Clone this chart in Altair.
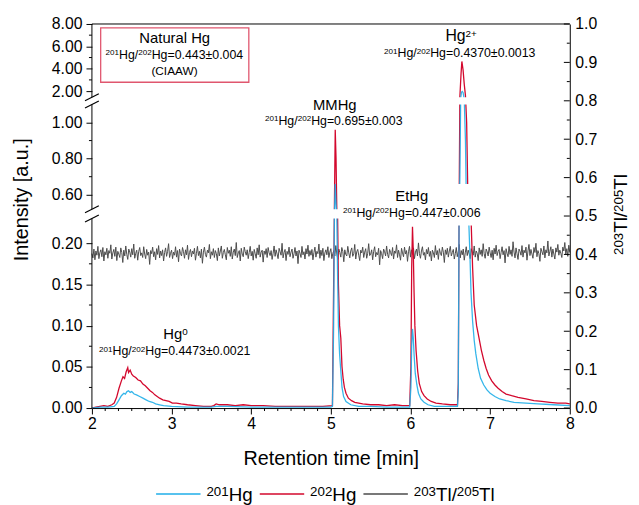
import re
import altair as alt
import pandas as pd

FONT = "Liberation Sans"

# ---------------- data ----------------
# 202Hg trace (time [min], intensity [a.u.])
HG202_POINTS = [
    (2.00, 0.000), (2.05, 0.001), (2.10, 0.002), (2.15, 0.003), (2.20, 0.002), (2.25, 0.004),
    (2.28, 0.006), (2.31, 0.013), (2.34, 0.024), (2.37, 0.033), (2.39, 0.038), (2.41, 0.036),
    (2.43, 0.044), (2.45, 0.049), (2.46, 0.043), (2.48, 0.046), (2.50, 0.041), (2.52, 0.039),
    (2.55, 0.037), (2.58, 0.034), (2.61, 0.033), (2.64, 0.029), (2.67, 0.027), (2.70, 0.024),
    (2.73, 0.021), (2.76, 0.019), (2.79, 0.016), (2.82, 0.014), (2.85, 0.012), (2.89, 0.010),
    (2.93, 0.009), (2.97, 0.008), (3.01, 0.006), (3.06, 0.006), (3.12, 0.005), (3.20, 0.004),
    (3.30, 0.003), (3.40, 0.002), (3.50, 0.002), (3.53, 0.003), (3.56, 0.005), (3.60, 0.004),
    (3.70, 0.004), (3.80, 0.003), (3.90, 0.004), (4.00, 0.003), (4.15, 0.003), (4.30, 0.002),
    (4.50, 0.002), (4.70, 0.002), (4.90, 0.002), (5.02, 0.003), (5.035, 0.15), (5.045, 0.55),
    (5.055, 0.96), (5.065, 0.80), (5.075, 0.45), (5.085, 0.25), (5.095, 0.15), (5.11, 0.10),
    (5.125, 0.085), (5.14, 0.050), (5.155, 0.035), (5.17, 0.025), (5.19, 0.018), (5.22, 0.012),
    (5.26, 0.009), (5.30, 0.007), (5.40, 0.005), (5.50, 0.004), (5.60, 0.004), (5.70, 0.003),
    (5.80, 0.004), (5.90, 0.003), (5.99, 0.003), (6.005, 0.05), (6.015, 0.17), (6.025, 0.220),
    (6.035, 0.19), (6.045, 0.14), (6.055, 0.10), (6.07, 0.070), (6.09, 0.045), (6.11, 0.030),
    (6.14, 0.020), (6.17, 0.015), (6.21, 0.011), (6.26, 0.008), (6.32, 0.006), (6.40, 0.005),
    (6.50, 0.004), (6.59, 0.004), (6.60, 0.03), (6.61, 0.40), (6.62, 1.50), (6.635, 3.60),
    (6.645, 4.65), (6.66, 3.90), (6.675, 2.60), (6.69, 1.60), (6.705, 1.00), (6.72, 0.60),
    (6.74, 0.35), (6.76, 0.24), (6.78, 0.17), (6.80, 0.125), (6.83, 0.100), (6.86, 0.085),
    (6.89, 0.070), (6.92, 0.058), (6.95, 0.048), (6.98, 0.040), (7.02, 0.033), (7.06, 0.028),
    (7.10, 0.024), (7.15, 0.020), (7.20, 0.017), (7.27, 0.015), (7.35, 0.013), (7.45, 0.011),
    (7.55, 0.009), (7.65, 0.008), (7.75, 0.007), (7.85, 0.006), (7.95, 0.006), (8.00, 0.005),
]

# 201Hg trace
HG201_POINTS = [
    (2.00, 0.000), (2.10, 0.001), (2.20, 0.001), (2.28, 0.002), (2.31, 0.005), (2.34, 0.010),
    (2.37, 0.015), (2.40, 0.018), (2.42, 0.017), (2.44, 0.020), (2.46, 0.021), (2.48, 0.019),
    (2.50, 0.020), (2.53, 0.017), (2.56, 0.016), (2.60, 0.014), (2.64, 0.012), (2.68, 0.010),
    (2.72, 0.008), (2.76, 0.007), (2.80, 0.005), (2.85, 0.004), (2.90, 0.003), (3.00, 0.002),
    (3.20, 0.001), (3.50, 0.001), (3.56, 0.002), (3.70, 0.002), (4.00, 0.001), (4.50, 0.001),
    (5.00, 0.001), (5.02, 0.002), (5.035, 0.10), (5.045, 0.38), (5.055, 0.66), (5.065, 0.55),
    (5.075, 0.30), (5.085, 0.16), (5.095, 0.10), (5.11, 0.065), (5.125, 0.045), (5.14, 0.025),
    (5.16, 0.014), (5.19, 0.008), (5.25, 0.004), (5.35, 0.002), (5.50, 0.002), (5.70, 0.001),
    (5.99, 0.001), (6.005, 0.025), (6.015, 0.075), (6.025, 0.096), (6.035, 0.085), (6.045, 0.065),
    (6.06, 0.042), (6.08, 0.028), (6.10, 0.018), (6.13, 0.011), (6.17, 0.007), (6.22, 0.004),
    (6.30, 0.002), (6.45, 0.002), (6.59, 0.002), (6.60, 0.02), (6.61, 0.25), (6.62, 0.70),
    (6.63, 1.40), (6.64, 1.90), (6.65, 1.97), (6.66, 1.88), (6.675, 1.35), (6.69, 0.90),
    (6.70, 0.60), (6.715, 0.38), (6.73, 0.25), (6.745, 0.19), (6.76, 0.14), (6.78, 0.105),
    (6.80, 0.082), (6.82, 0.066), (6.85, 0.048), (6.88, 0.036), (6.92, 0.028), (6.96, 0.022),
    (7.00, 0.018), (7.06, 0.014), (7.12, 0.011), (7.20, 0.009), (7.30, 0.007), (7.45, 0.006),
    (7.60, 0.005), (7.80, 0.004), (8.00, 0.003),
]

# 203Tl/205Tl ratio, sampled every TL_STEP minutes from TL_START
TL_START = 2.0
TL_STEP = 0.0125
TL_RATIO = [
    0.402, 0.391, 0.414, 0.386, 0.409, 0.398, 0.421, 0.389, 0.405, 0.412, 0.394, 0.418, 0.383, 0.407, 0.399, 0.416, 0.390, 0.410, 0.403, 0.425,
    0.388, 0.404, 0.413, 0.395, 0.419, 0.384, 0.408, 0.401, 0.392, 0.417, 0.405, 0.379, 0.411, 0.396, 0.422, 0.400, 0.387, 0.414, 0.406, 0.393,
    0.415, 0.399, 0.427, 0.390, 0.403, 0.411, 0.385, 0.408, 0.418, 0.397, 0.404, 0.392, 0.420, 0.401, 0.389, 0.413, 0.398, 0.406, 0.374, 0.410,
    0.402, 0.419, 0.394, 0.407, 0.386, 0.415, 0.400, 0.423, 0.391, 0.409, 0.397, 0.412, 0.383, 0.405, 0.417, 0.395, 0.408, 0.428, 0.392, 0.403,
    0.411, 0.389, 0.406, 0.398, 0.420, 0.393, 0.410, 0.381, 0.414, 0.402, 0.396, 0.418, 0.407, 0.390, 0.412, 0.399, 0.424, 0.387, 0.405, 0.413,
    0.394, 0.409, 0.401, 0.416, 0.385, 0.403, 0.421, 0.397, 0.408, 0.391, 0.414, 0.377, 0.406, 0.419, 0.400, 0.393, 0.411, 0.404, 0.426, 0.389,
    0.407, 0.398, 0.415, 0.392, 0.410, 0.402, 0.384, 0.417, 0.396, 0.409, 0.422, 0.390, 0.405, 0.413, 0.399, 0.386, 0.418, 0.403, 0.411, 0.395,
    0.420, 0.388, 0.406, 0.414, 0.397, 0.431, 0.392, 0.404, 0.410, 0.383, 0.416, 0.401, 0.394, 0.419, 0.407, 0.398, 0.412, 0.389, 0.405, 0.421,
    0.396, 0.408, 0.385, 0.413, 0.402, 0.390, 0.417, 0.399, 0.425, 0.393, 0.406, 0.411, 0.380, 0.409, 0.400, 0.415, 0.392, 0.418, 0.404, 0.397,
    0.410, 0.387, 0.403, 0.422, 0.395, 0.412, 0.401, 0.389, 0.416, 0.407, 0.398, 0.429, 0.391, 0.405, 0.413, 0.384, 0.408, 0.400, 0.419, 0.394,
    0.406, 0.414, 0.390, 0.402, 0.418, 0.396, 0.409, 0.376, 0.411, 0.403, 0.392, 0.421, 0.399, 0.407, 0.388, 0.415, 0.401, 0.424, 0.395, 0.410,
    0.398, 0.413, 0.386, 0.405, 0.419, 0.393, 0.408, 0.402, 0.427, 0.390, 0.411, 0.397, 0.416, 0.384, 0.404, 0.412, 0.399, 0.420, 0.392, 0.406,
    0.415, 0.389, 0.403, 0.410, 0.396, 0.423, 0.401, 0.387, 0.414, 0.405, 0.393, 0.418, 0.408, 0.381, 0.412, 0.400, 0.396, 0.421, 0.404, 0.391,
    0.409, 0.417, 0.395, 0.402, 0.426, 0.388, 0.407, 0.413, 0.398, 0.384, 0.411, 0.404, 0.419, 0.392, 0.406, 0.415, 0.390, 0.403, 0.428, 0.397,
    0.401, 0.412, 0.386, 0.408, 0.420, 0.394, 0.405, 0.399, 0.416, 0.373, 0.410, 0.402, 0.389, 0.414, 0.407, 0.396, 0.422, 0.400, 0.391, 0.413,
    0.405, 0.397, 0.418, 0.388, 0.409, 0.403, 0.425, 0.392, 0.411, 0.399, 0.385, 0.416, 0.404, 0.394, 0.419, 0.401, 0.410, 0.382, 0.407, 0.421,
    0.393, 0.412, 0.400, 0.417, 0.389, 0.406, 0.414, 0.396, 0.430, 0.402, 0.390, 0.409, 0.420, 0.398, 0.405, 0.386, 0.413, 0.401, 0.418, 0.395,
    0.408, 0.383, 0.411, 0.404, 0.392, 0.423, 0.399, 0.410, 0.387, 0.415, 0.403, 0.397, 0.419, 0.406, 0.379, 0.412, 0.400, 0.416, 0.393, 0.409,
    0.421, 0.396, 0.405, 0.413, 0.388, 0.402, 0.418, 0.394, 0.407, 0.426, 0.391, 0.410, 0.399, 0.414, 0.385, 0.404, 0.420, 0.397, 0.411, 0.401,
    0.389, 0.415, 0.406, 0.398, 0.422, 0.393, 0.409, 0.403, 0.384, 0.417, 0.400, 0.412, 0.395, 0.428, 0.402, 0.390, 0.414, 0.407, 0.396, 0.419,
    0.404, 0.392, 0.411, 0.386, 0.416, 0.401, 0.424, 0.397, 0.408, 0.413, 0.389, 0.405, 0.420, 0.399, 0.410, 0.378, 0.415, 0.403, 0.394, 0.421,
    0.400, 0.412, 0.395, 0.433, 0.406, 0.391, 0.417, 0.402, 0.387, 0.414, 0.408, 0.398, 0.423, 0.393, 0.411, 0.404, 0.419, 0.385, 0.409, 0.426,
    0.397, 0.413, 0.401, 0.390, 0.418, 0.405, 0.429, 0.394, 0.410, 0.402, 0.382, 0.416, 0.407, 0.399, 0.422, 0.391, 0.412, 0.404, 0.435, 0.396,
    0.408, 0.420, 0.393, 0.414, 0.401, 0.388, 0.417, 0.406, 0.426, 0.398, 0.411, 0.403, 0.392, 0.419, 0.409, 0.431, 0.400, 0.415, 0.395, 0.424,
    0.405,
]

# legend entries ({...} marks a superscript)
SERIES = ["{201}Hg", "{202}Hg", "{203}Tl/{205}Tl"]
COLORS = ["#1FAEE8", "#D3082D", "#4B4B4B"]

X_TICKS = [2, 3, 4, 5, 6, 7, 8]
X_MINOR = [round(2 + k / 6, 4) for k in range(1, 36) if k % 6]
LEFT_TICKS = [0, 0.05, 0.10, 0.15, 0.20, 0.60, 0.80, 1.00, 2, 4, 6, 8]
LEFT_MINOR = [0.025, 0.075, 0.125, 0.175, 0.7, 0.9, 3, 5, 7]
RIGHT_TICKS = [0.0, 0.1, 0.2, 0.3, 0.4, 0.5, 0.6, 0.7, 0.8, 0.9, 1.0]
RIGHT_MINOR = [0.05, 0.15, 0.25, 0.35, 0.45, 0.55, 0.65, 0.75, 0.85, 0.95]

# broken left axis: three linear pieces
Y_DOMAIN = [0, 0.23, 0.52, 1.1, 1.45, 8]
SEG_LO = [0, 0.52, 1.45]
SEG_HI = [0.23, 1.1, 8]
GAP_LO = [0.23, 1.1]
GAP_HI = [0.52, 1.45]

# annotations: markup, x [min], y [a.u.], font size, superscript size
LABELS = [
    ("Hg{2+}", 6.636, 6.94, 16, 10),
    ("{201}Hg/{202}Hg=0.4370±0.0013", 6.618, 5.44, 12.5, 8.2),
    ("MMHg", 5.05, 1.098, 15, 10),
    ("{201}Hg/{202}Hg=0.695±0.003", 5.037, 1.011, 12.5, 8.2),
    ("EtHg", 6.016, 0.595, 15, 10),
    ("{201}Hg/{202}Hg=0.447±0.006", 6.016, 0.415, 12.5, 8.2),
    ("Hg{0}", 3.05, 0.0898, 15, 10),
    ("{201}Hg/{202}Hg=0.4473±0.0021", 3.04, 0.0695, 12.5, 8.2),
    ("Natural Hg", 3.04, 6.77, 15, 10),
    ("{201}Hg/{202}Hg=0.443±0.004", 3.035, 5.27, 12.5, 8.2),
    ("(CIAAW)", 3.04, 3.85, 12, 8),
]
BOX_NATURAL = (2.11, 3.97, 2.79, 7.65)
BOX_ETHG = (5.13, 6.90, 0.2216, 0.66)
RIGHT_TITLE = "{203}Tl/{205}Tl"

# ---------------- layout ----------------
W, H = 484, 389
Y_RANGE = [389, 197, 187.6, 81.5, 74.2, 0]

XS = alt.Scale(domain=[2, 8], nice=False, zero=False)
YS = alt.Scale(domain=Y_DOMAIN, range=Y_RANGE, nice=False, zero=False)
YR = alt.Scale(domain=[0, 1], nice=False, zero=False)

X_AXIS = alt.Axis(values=X_TICKS, format="d", tickSize=6, labelPadding=2, labelFontSize=16,
                  labelFlush=False, labelOverlap=False, grid=False, zindex=1,
                  title="Retention time [min]", titleFontSize=20, titleY=57,
                  titleBaseline="alphabetic")
L_AXIS = alt.Axis(orient="left", values=LEFT_TICKS, format=".2f", domain=False, tickSize=6,
                  labelPadding=4, labelFontSize=16, labelOverlap=False, labelFlush=False,
                  grid=False, title="Intensity [a.u.]", titleFontSize=20, titleAngle=270,
                  titleX=-65, titleY=177.5, titleAlign="center", titleBaseline="alphabetic")
R_AXIS = alt.Axis(orient="right", values=RIGHT_TICKS, format=".1f", ticks=False,
                  labelPadding=5, labelFontSize=16, labelOverlap=False, labelFlush=False,
                  grid=False, zindex=1, title=None)

# Arial / Liberation Sans advance widths (1/1000 em)
ADV = {" ": 278, "(": 333, ")": 333, "+": 584, ".": 278, "/": 278, "=": 584, "±": 549,
       "A": 667, "C": 722, "E": 667, "H": 722, "I": 278, "M": 833, "N": 722, "T": 611,
       "W": 944, "a": 556, "g": 556, "l": 222, "r": 333, "t": 278, "u": 556}
for _d in "0123456789":
    ADV[_d] = 556


def text_width(s, size):
    return sum(ADV.get(c, 556) for c in s) * size / 1000.0


def rich_text(markup, base, sup, make_chart, enc, center=True, angle=0):
    """Lay out a string with superscripts as a row of text marks."""
    parts = [(a, True) if a else (b, False)
             for a, b in re.findall(r"\{([^}]*)\}|([^{]+)", markup)]
    total = sum(text_width(s, sup if is_sup else base) for s, is_sup in parts)
    off = -total / 2 if center else 0.0
    cap = 0.716 * base
    lift = 0.716 * (base - sup) + 0.5
    layers = []
    for s, is_sup in parts:
        size = sup if is_sup else base
        props = dict(text=s, font=FONT, fontSize=size, color="black", align="left",
                     baseline="alphabetic", dx=round(off, 2),
                     dy=round(cap / 2 - (lift if is_sup else 0), 2))
        if angle:
            props["angle"] = angle
        layers.append(make_chart().mark_text(**props).encode(**enc))
        off += text_width(s, size)
    return layers


def xq(f):
    return alt.X(f, type="quantitative", scale=XS, axis=X_AXIS)


def yl(f):
    return alt.Y(f, type="quantitative", scale=YS, axis=L_AXIS)


def yr(f, axis=R_AXIS):
    return alt.Y(f, type="quantitative", scale=YR, axis=axis)


ONE = pd.DataFrame({"a": [0]})

red_df = pd.DataFrame(HG202_POINTS, columns=["t", "v"])
blue_df = pd.DataFrame(HG201_POINTS, columns=["t", "v"])
tl_df = pd.DataFrame({"t": [TL_START + i * TL_STEP for i in range(len(TL_RATIO))],
                      "v": TL_RATIO})

# group 1: Tl ratio line on the right axis (drawn underneath)
gray = alt.Chart(tl_df).mark_line(strokeWidth=1, color=COLORS[2]).encode(x=xq("t"), y=yr("v"))

# group 2: Hg traces on the broken left axis
red = alt.Chart(red_df).mark_line(strokeWidth=1.3, color=COLORS[1]).encode(x=xq("t"), y=yl("v"))
blue = alt.Chart(blue_df).mark_line(strokeWidth=1.3, color=COLORS[0], opacity=0.9).encode(
    x=xq("t"), y=yl("v"))

gap_df = pd.DataFrame({"x": [2, 2], "x2": [8, 8], "y": GAP_LO, "y2": GAP_HI})
gaps = alt.Chart(gap_df).mark_rect(fill="white").encode(
    x=xq("x"), x2="x2", y=yl("y"), y2="y2")

eth_df = pd.DataFrame({"x": [BOX_ETHG[0]], "x2": [BOX_ETHG[1]],
                       "y": [BOX_ETHG[2]], "y2": [BOX_ETHG[3]]})
eth_box = alt.Chart(eth_df).mark_rect(fill="white").encode(
    x=xq("x"), x2="x2", y=yl("y"), y2="y2")

seg_df = pd.DataFrame({"y": SEG_LO, "y2": SEG_HI})
segs = alt.Chart(seg_df).mark_rule(color="black", strokeWidth=1).encode(
    x=alt.value(0), y=yl("y"), y2="y2")

brk_df = pd.DataFrame({"y": GAP_LO + GAP_HI})
brks = alt.Chart(brk_df).mark_rule(color="black", strokeWidth=1.2, yOffset=3.5,
                                   y2Offset=-3.5).encode(
    x=alt.value(-7), x2=alt.value(7), y=yl("y"), y2="y")

lmin = alt.Chart(pd.DataFrame({"y": LEFT_MINOR})).mark_rule(color="black").encode(
    x=alt.value(-3), x2=alt.value(0), y=yl("y"))

xmin = alt.Chart(pd.DataFrame({"x": X_MINOR})).mark_rule(color="black").encode(
    x=xq("x"), y=alt.value(H), y2=alt.value(H + 3))

top = alt.Chart(ONE).mark_rule(color="black").encode(
    x=alt.value(0), x2=alt.value(W), y=alt.value(0))

nat_df = pd.DataFrame({"x": [BOX_NATURAL[0]], "x2": [BOX_NATURAL[1]],
                       "y": [BOX_NATURAL[2]], "y2": [BOX_NATURAL[3]]})
nat_box = alt.Chart(nat_df).mark_rect(fill="white", stroke="#E0566E", strokeWidth=1.3).encode(
    x=xq("x"), x2="x2", y=yl("y"), y2="y2")

label_layers = []
for markup, lx, ly, base, sup in LABELS:
    pos_df = pd.DataFrame({"x": [lx], "y": [ly]})
    label_layers += rich_text(markup, base, sup, lambda d=pos_df: alt.Chart(d),
                              dict(x=xq("x"), y=yl("y")))

left_group = alt.layer(red, blue, gaps, eth_box, segs, brks, lmin, xmin, top, nat_box,
                       *label_layers)

# group 3: inward right ticks, right title and legend (drawn on top)
rmaj = alt.Chart(pd.DataFrame({"y": RIGHT_TICKS})).mark_rule(color="black").encode(
    x=alt.value(W - 6), x2=alt.value(W), y=yr("y", None))
rmin = alt.Chart(pd.DataFrame({"y": RIGHT_MINOR})).mark_rule(color="black").encode(
    x=alt.value(W - 3), x2=alt.value(W), y=yr("y", None))

rtitle = rich_text(RIGHT_TITLE, 19, 13.5, lambda: alt.Chart(ONE),
                   dict(x=alt.value(W + 51.5), y=alt.value(193)), center=True, angle=270)

LEG_X = [65, 170, 275]
LEG_Y = 476
legend_layers = []
for name, col, lx in zip(SERIES, COLORS, LEG_X):
    legend_layers.append(alt.Chart(ONE).mark_rule(color=col, strokeWidth=1.4).encode(
        x=alt.value(lx), x2=alt.value(lx + 45), y=alt.value(LEG_Y)))
    legend_layers += rich_text(name, 19, 13.5, lambda: alt.Chart(ONE),
                               dict(x=alt.value(lx + 51), y=alt.value(LEG_Y)), center=False)

right_group = alt.layer(rmaj, rmin, *rtitle, *legend_layers)

chart = alt.layer(gray, left_group, right_group).resolve_scale(y="independent").properties(
    width=W, height=H,
    padding={"left": 85, "top": 13, "right": 62, "bottom": 95},
    autosize=alt.AutoSizeParams(type="none"),
).configure_view(stroke=None).configure_axis(
    labelFont=FONT, titleFont=FONT, labelColor="black", titleColor="black",
    titleFontWeight="normal", domainColor="black", tickColor="black",
    domainWidth=1, tickWidth=1,
)

chart.save("out.html", embed_options={"renderer": "svg", "actions": False})
